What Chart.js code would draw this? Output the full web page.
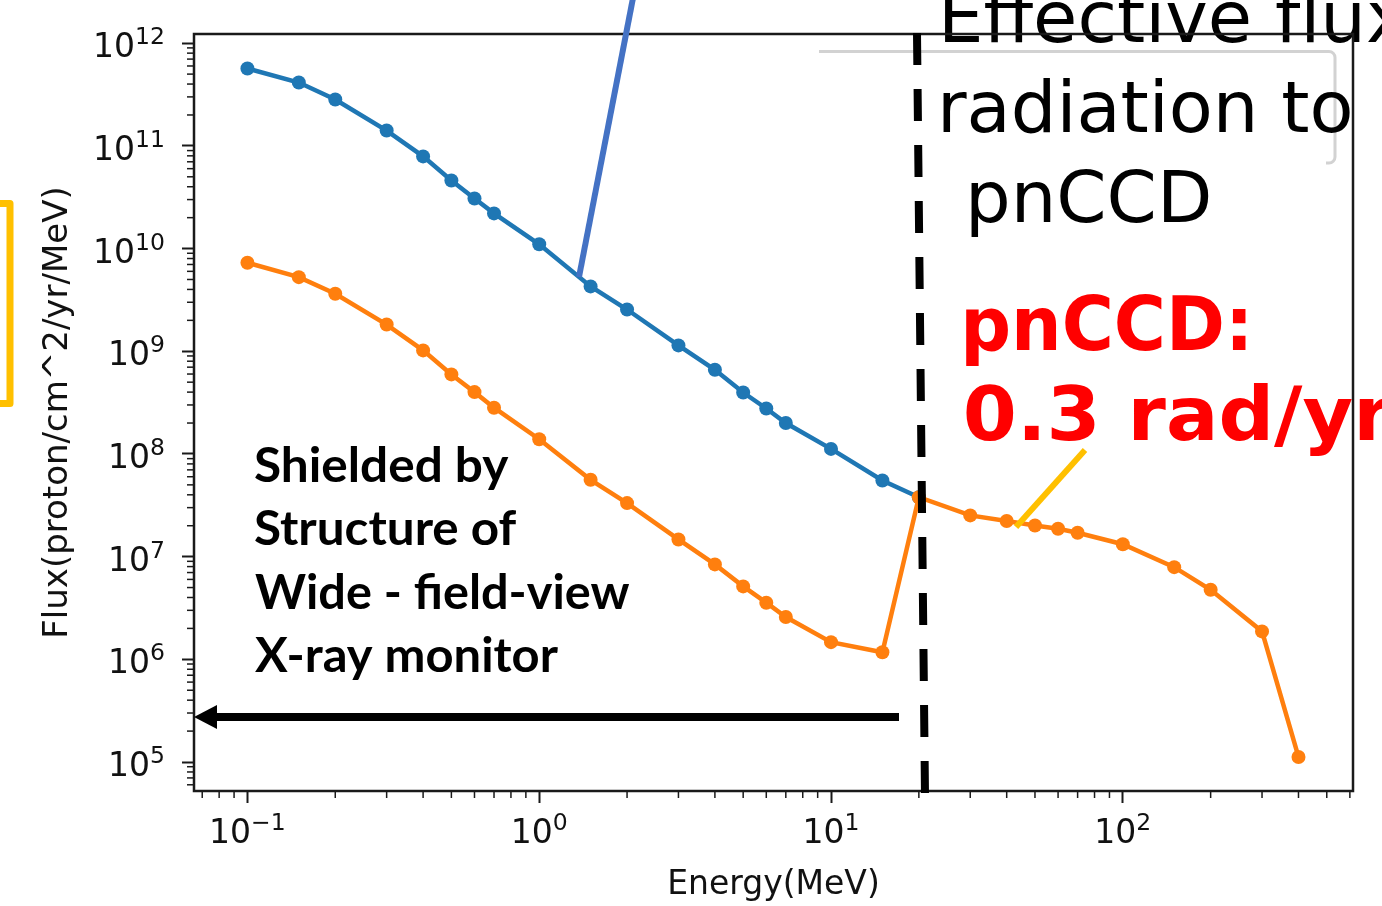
<!DOCTYPE html>
<html>
<head>
<meta charset="utf-8">
<script src="https://cdn.jsdelivr.net/npm/chart.js@4.4.1/dist/chart.umd.min.js"></script>
<style>
  html, body { margin: 0; padding: 0; background: #fff; }
  .chartContainer { width: 1382px; height: 906px; position: relative; }
</style>
</head>
<body>
<div class="chartContainer"><canvas id="myChart"></canvas></div>
<script>
// ------------------------Data--------------------------------
const energies = [0.1, 0.15, 0.2, 0.3, 0.4, 0.5, 0.6, 0.7, 1, 1.5, 2, 3, 4, 5, 6, 7, 10, 15,
  20, 30, 40, 50, 60, 70, 100, 150, 200, 300, 400]

// blue: flux before shielding (stops at 20 MeV)
const fluxUnshielded = [5.67e11, 4.14e11, 2.83e11, 1.41e11, 7.9e10, 4.6e10, 3.07e10, 2.2e10,
  1.1e10, 4.28e9, 2.55e9, 1.14e9, 6.6e8, 3.96e8, 2.77e8, 2.0e8, 1.12e8, 5.52e7, 3.79e7]

// orange: effective flux to pnCCD
const fluxShielded = [7.28e9, 5.27e9, 3.63e9, 1.82e9, 1.02e9, 5.95e8, 4.0e8, 2.82e8, 1.39e8,
  5.6e7, 3.32e7, 1.47e7, 8.4e6, 5.13e6, 3.56e6, 2.58e6, 1.47e6, 1.17e6,
  3.79e7, 2.52e7, 2.22e7, 2.01e7, 1.87e7, 1.71e7, 1.32e7, 7.9e6, 4.76e6, 1.87e6, 1.12e5]

// tick values and the exponent drawn as 10^n
const xTickValues = [0.1, 1, 10, 100]
const xTickExponents = ['\u22121', '0', '1', '2']
const yTickValues = [1e5, 1e6, 1e7, 1e8, 1e9, 1e10, 1e11, 1e12]
const yTickExponents = ['5', '6', '7', '8', '9', '10', '11', '12']

const toPoints = (xs, ys) => ys.map((y, i) => ({ x: xs[i], y: y }))

// ------------------------Text helpers------------------------
// draws text so its glyph box starts at gx, optionally squeezed to a width
const drawText = (ctx, text, gx, baseline, width) => {
  const m = ctx.measureText(text)
  const w = m.actualBoundingBoxLeft + m.actualBoundingBoxRight
  const sx = width ? width / w : 1
  ctx.save()
  ctx.translate(gx, baseline)
  ctx.scale(sx, 1)
  ctx.fillText(text, m.actualBoundingBoxLeft, 0)
  ctx.restore()
  return sx
}

const baseFont = '33px "DejaVu Sans"'
const supFont = '23.5px "DejaVu Sans"'

// "10" with a raised exponent, anchored by its right edge or its centre
const drawPower = (ctx, exp, x, baseline, align) => {
  ctx.font = baseFont
  const wb = ctx.measureText('10').width
  ctx.font = supFont
  const ws = ctx.measureText(exp).width
  const x0 = align === 'right' ? x - wb - ws : x - (wb + ws) / 2
  ctx.textAlign = 'left'
  ctx.font = baseFont
  ctx.fillText('10', x0, baseline)
  ctx.font = supFont
  ctx.fillText(exp, x0 + wb, baseline - 13)
}

const line = (ctx, x1, y1, x2, y2) => {
  ctx.beginPath()
  ctx.moveTo(x1, y1)
  ctx.lineTo(x2, y2)
  ctx.stroke()
}

// ------------------------Overlay plugin----------------------
const overlay = {
  id: 'overlay',
  afterDraw(chart) {
    const ctx = chart.ctx
    const { left, right, top, bottom } = chart.chartArea
    const xs = chart.scales.x
    const ys = chart.scales.y
    ctx.save()

    // tick labels
    ctx.fillStyle = '#111'
    ctx.textBaseline = 'alphabetic'
    yTickValues.forEach((v, i) => {
      drawPower(ctx, yTickExponents[i], 165, ys.getPixelForValue(v) + 14, 'right')
    })
    xTickValues.forEach((v, i) => {
      drawPower(ctx, xTickExponents[i], xs.getPixelForValue(v), bottom + 52, 'center')
    })

    // minor ticks
    ctx.strokeStyle = '#1a1a1a'
    ctx.lineWidth = 1.5
    for (let e = 4; e <= 12; e++) {
      for (let m = 2; m <= 9; m++) {
        const v = m * Math.pow(10, e)
        if (v < ys.min || v > ys.max) continue
        const py = ys.getPixelForValue(v)
        line(ctx, left - 7, py, left, py)
      }
    }
    for (let e = -2; e <= 2; e++) {
      for (let m = 2; m <= 9; m++) {
        const v = m * Math.pow(10, e)
        if (v < xs.min || v > xs.max) continue
        const px = xs.getPixelForValue(v)
        line(ctx, px, bottom, px, bottom + 7)
      }
    }

    // faded legend frame
    ctx.strokeStyle = '#d2d2d2'
    ctx.lineWidth = 3
    ctx.beginPath()
    ctx.moveTo(819, 51.5)
    ctx.lineTo(1329, 51.5)
    ctx.arcTo(1335, 51.5, 1335, 58, 6)
    ctx.lineTo(1335, 157)
    ctx.arcTo(1335, 163, 1329, 163, 6)
    ctx.lineTo(1326, 163)
    ctx.stroke()

    // black slide text
    ctx.fillStyle = '#000'
    ctx.font = '72px "DejaVu Sans"'
    drawText(ctx, 'Effective flux', 945, 42)
    drawText(ctx, 'radiation to', 943, 132)
    drawText(ctx, 'pnCCD', 971, 222)

    // spines
    ctx.strokeStyle = '#1a1a1a'
    ctx.lineWidth = 2.5
    ctx.strokeRect(left, top, right - left, bottom - top)

    // red dose text
    ctx.fillStyle = '#ff0000'
    ctx.font = 'bold 74px "DejaVu Sans"'
    drawText(ctx, 'pnCCD:', 966, 350, 280)
    drawText(ctx, '0.3 rad/yr', 966, 440, 426)

    // shielded note
    ctx.fillStyle = '#000'
    ctx.font = 'bold 48px Lato'
    drawText(ctx, 'Shielded by', 255, 482, 254)
    drawText(ctx, 'Structure of', 255, 545, 262)
    drawText(ctx, 'Wide - field-view', 255, 608.5, 375)
    drawText(ctx, 'X-ray monitor', 255, 672, 303)

    // arrow to the left
    ctx.strokeStyle = '#000'
    ctx.fillStyle = '#000'
    ctx.lineWidth = 8
    line(ctx, 899, 717, 212, 717)
    ctx.beginPath()
    ctx.moveTo(left, 717)
    ctx.lineTo(left + 23, 705)
    ctx.lineTo(left + 23, 729)
    ctx.closePath()
    ctx.fill()

    // dashed boundary
    ctx.lineWidth = 8
    ctx.setLineDash([32, 24])
    line(ctx, 917, 33, 925, 795)
    ctx.setLineDash([])

    // pointer lines
    ctx.strokeStyle = '#4472c4'
    ctx.lineWidth = 6
    line(ctx, 579, 277, 633, -2)
    ctx.strokeStyle = '#ffc000'
    line(ctx, 1016, 527, 1085, 450)

    // yellow bracket at left edge
    ctx.lineWidth = 7
    ctx.lineJoin = 'round'
    ctx.beginPath()
    ctx.moveTo(-10, 203.5)
    ctx.lineTo(10, 203.5)
    ctx.lineTo(10, 403.5)
    ctx.lineTo(-10, 403.5)
    ctx.stroke()

    ctx.restore()
  }
}

// ------------------------Chart-------------------------------
const tickGrid = { display: true, drawOnChartArea: false, drawTicks: true, tickLength: 12, tickWidth: 2, tickColor: '#1a1a1a' }

const chartConfig = {
  type: 'line',
  data: {
    datasets: [{
      data: toPoints(energies, fluxShielded),
      borderColor: '#ff7f0e',
      backgroundColor: '#ff7f0e',
      borderWidth: 4.5,
      pointRadius: 7,
      pointBorderWidth: 0,
      tension: 0
    }, {
      data: toPoints(energies, fluxUnshielded),
      borderColor: '#1f77b4',
      backgroundColor: '#1f77b4',
      borderWidth: 4.5,
      pointRadius: 7,
      pointBorderWidth: 0,
      tension: 0
    }]
  },
  options: {
    responsive: true,
    maintainAspectRatio: false,
    animation: false,
    events: [],
    layout: { padding: { top: 34, right: 29, left: 0, bottom: 0 } },
    plugins: { legend: { display: false }, tooltip: { enabled: false } },
    scales: {
      x: {
        type: 'logarithmic',
        min: 0.0656,
        max: 615,
        afterBuildTicks: (s) => { s.ticks = xTickValues.map(v => ({ value: v })) },
        afterFit: (s) => { s.height = 115; s.paddingLeft = 0; s.paddingRight = 0 },
        ticks: { display: false, autoSkip: false, maxRotation: 0 },
        grid: tickGrid,
        border: { display: false },
        title: {
          display: true,
          text: 'Energy(MeV)',
          color: '#111',
          font: { family: 'DejaVu Sans', size: 33 },
          padding: { top: 0, bottom: 1 }
        }
      },
      y: {
        type: 'logarithmic',
        min: 5.22e4,
        max: 1.229e12,
        afterBuildTicks: (s) => { s.ticks = yTickValues.map(v => ({ value: v })) },
        afterFit: (s) => { s.width = 194; s.paddingTop = 0; s.paddingBottom = 0 },
        ticks: { display: false, autoSkip: false },
        grid: tickGrid,
        border: { display: false },
        title: {
          display: true,
          text: 'Flux(proton/cm^2/yr/MeV)',
          color: '#111',
          font: { family: 'DejaVu Sans', size: 34 },
          padding: { top: 38, bottom: 0 }
        }
      }
    }
  },
  plugins: [overlay]
}

const myChart = new Chart(document.getElementById('myChart'), chartConfig)
</script>
</body>
</html>
